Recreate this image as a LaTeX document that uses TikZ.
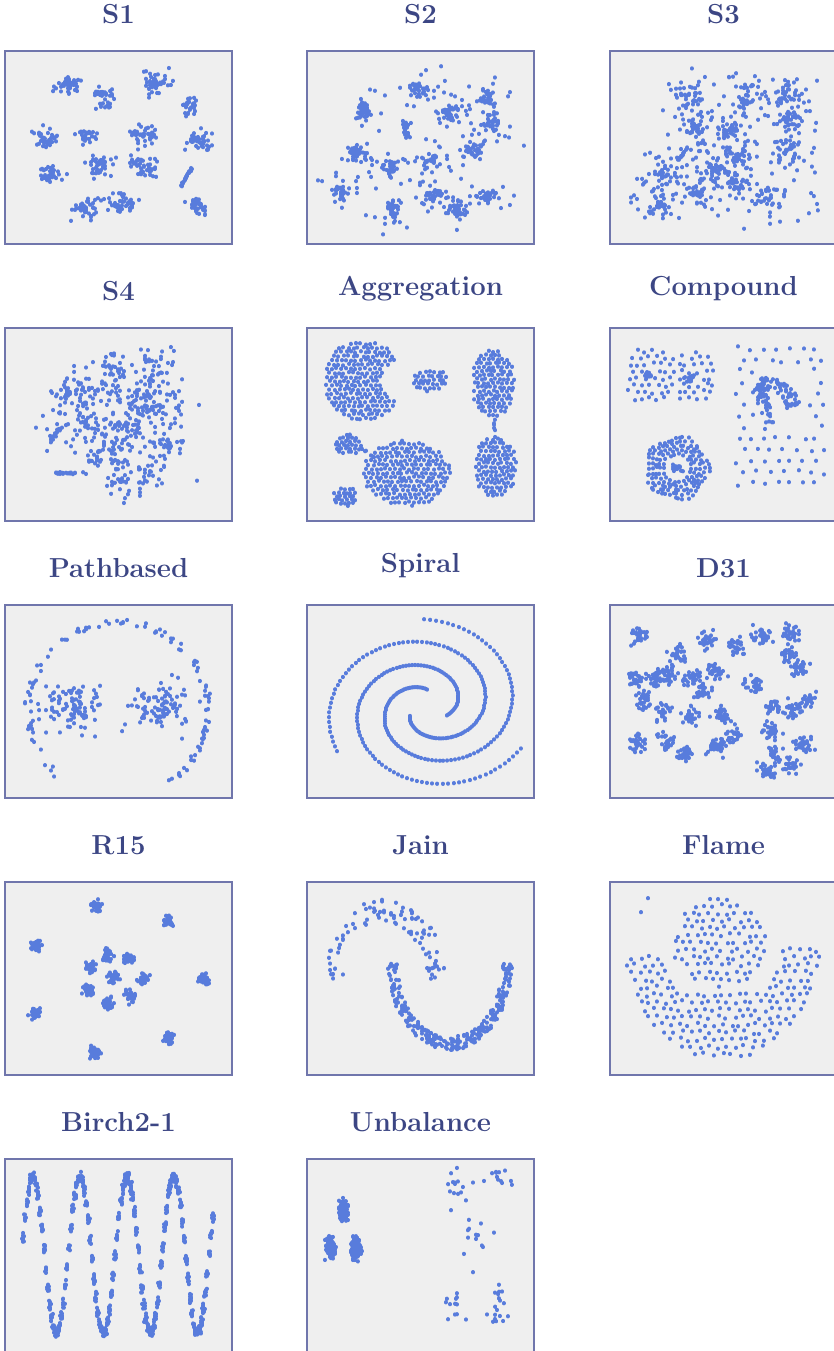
\documentclass[tikz,border=0pt]{standalone}
\usepackage{fontspec}
\definecolor{panelbg}{RGB}{239,239,239}
\definecolor{panelrule}{RGB}{112,118,172}
\definecolor{titleblue}{RGB}{60,70,132}
\definecolor{dotblue}{RGB}{88,124,220}
\tikzset{
  ptdots/.style={draw=dotblue,line width=4pt,line cap=round},
  panelframe/.style={fill=panelbg,draw=panelrule,line width=1.2pt},
  paneltitle/.style={font=\fontsize{27.5}{32}\selectfont\bfseries,text=titleblue,anchor=south,inner sep=0pt},
}
% sample points are collected in \ptlist and drawn as round dots in one path
\gdef\ptlist{}
\newcommand\addpt[2]{%
  \pgfmathsetmacro\qX{#1}\pgfmathsetmacro\qY{#2}%
  \xdef\ptlist{\ptlist(\qX,\qY)--++(0,0.3)}}
\newcommand\flushpts{%
  \edef\tmpdraw{\noexpand\draw[ptdots] \ptlist;}\tmpdraw\gdef\ptlist{}}
% gaussian-like cluster: cx cy sdx sdy n
\newcommand\gblob[5]{%
  \foreach \k in {1,...,#5}{\addpt{#1+#3*(rand+rand+rand)}{#2+#4*(rand+rand+rand)}}%
  \flushpts}
% points along a segment: x1 y1 x2 y2 noise n
\newcommand\lblob[6]{%
  \foreach \k in {1,...,#6}{%
    \pgfmathsetmacro\gT{rnd}%
    \addpt{#1+(#3-#1)*\gT+#5*rand}{#2+(#4-#2)*\gT+#5*rand}}%
  \flushpts}
% uniform points in a rectangle: x1 y1 x2 y2 n
\newcommand\rblob[5]{%
  \foreach \k in {1,...,#5}{\addpt{#1+(#3-#1)*rnd}{#2+(#4-#2)*rnd}}%
  \flushpts}
% elliptic band: cx cy rx ry a1 a2 smin n
\newcommand\arcband[8]{%
  \foreach \k in {1,...,#8}{%
    \pgfmathsetmacro\gA{#5+(#6-#5)*rnd}%
    \pgfmathsetmacro\gS{#7+(1-#7)*rnd}%
    \addpt{#1+#3*\gS*cos(\gA)}{#2+#4*\gS*sin(\gA)}}%
  \flushpts}
% jittered hex lattice kept where a condition on \ux,\uy holds:
% cx cy halfwidth halfheight step jitter condition
\newcommand\gridblob[7]{%
  \pgfmathtruncatemacro\gNx{#3/#5}%
  \pgfmathtruncatemacro\gNy{#4/(0.866*#5)}%
  \foreach \i in {-\gNx,...,\gNx}{%
    \foreach \j in {-\gNy,...,\gNy}{%
      \pgfmathsetmacro\ux{(\i+0.5*abs(mod(\j,2)))*#5+#6*rand}%
      \pgfmathsetmacro\uy{\j*0.866*#5+#6*rand}%
      \pgfmathparse{#7}%
      \ifdim\pgfmathresult pt>0.5pt\addpt{#1+\ux}{#2+\uy}\fi}}%
  \flushpts}

\begin{document}
\begin{tikzpicture}[x=1pt,y=-1pt]
\pgfmathsetseed{4242}
\useasboundingbox (0,0) rectangle (834,1351);

% frames
\foreach \fx/\fy in {5/51,307/51,610/51,5/328,307/328,610/328,5/605,307/605,610/605,
                     5/882,307/882,610/882,5/1159,307/1159}
  \draw[panelframe] (\fx,\fy) rectangle ++(227,193);

% titles
\node[paneltitle] (tS1)   at (118.5,24)   {S1};
\node[paneltitle] (tS2)   at (420.5,24)   {S2};
\node[paneltitle] (tS3)   at (723.5,24)   {S3};
\node[paneltitle] (tS4)   at (118.5,301)  {S4};
\node[paneltitle] (tAgg)  at (420.5,301)  {Aggregation};
\node[paneltitle] (tComp) at (723.5,301)  {Compound};
\node[paneltitle] (tPath) at (118.5,578)  {Pathbased};
\node[paneltitle] (tSpir) at (420.5,578)  {Spiral};
\node[paneltitle] (tD31)  at (723.5,578)  {D31};
\node[paneltitle] (tR15)  at (118.5,855)  {R15};
\node[paneltitle] (tJain) at (420.5,855)  {Jain};
\node[paneltitle] (tFlame) at (723.5,855) {Flame};
\node[paneltitle] (tBirch) at (118.5,1132) {Birch2-1};
\node[paneltitle] (tUnb)  at (420.5,1132) {Unbalance};

% ---------- S1
\begin{scope}[shift={(5,51)}]
\gblob{63}{34}{6}{4}{40}
\gblob{98}{46}{5}{6}{35}
\gblob{152}{32}{7}{6}{45}
\gblob{185}{56}{4}{6}{30}
\gblob{42}{86}{7}{5}{40}
\gblob{80}{84}{6}{4}{25}
\gblob{138}{84}{7}{6}{40}
\gblob{193}{89}{6}{5}{40}
\gblob{47}{122}{6}{5}{35}
\gblob{95}{114}{7}{5}{40}
\gblob{140}{114}{7}{6}{40}
\lblob{187}{116}{175}{137}{0.8}{25}
\gblob{80}{156}{7}{6}{40}
\gblob{118}{152}{7}{5}{40}
\gblob{192}{157}{5}{5}{35}
\end{scope}

% ---------- S2
\begin{scope}[shift={(307,51)}]
\foreach \cx/\cy in {113/38,143/60,180/46,183/73,58/58,48/101,83/116,123/110,
                     166/98,35/141,86/156,126/143,150/158,180/145}
  {\gblob{\cx}{\cy}{4.5}{4}{26}\gblob{\cx}{\cy}{12}{11}{16}}
\gblob{100}{78}{2}{5}{20}
\end{scope}

% ---------- S3
\begin{scope}[shift={(610,51)}]
\foreach \cx/\cy in {82/46,137/44,177/44,120/77,85/79,180/69,130/102,105/114,
                     177/101,55/124,87/141,125/134,157/147,48/151}
  {\gblob{\cx}{\cy}{5}{5}{18}\gblob{\cx}{\cy}{12}{11}{26}}
\lblob{68}{109}{78}{96}{1}{15}
\rblob{20}{25}{210}{180}{50}
\end{scope}

% ---------- S4
\begin{scope}[shift={(5,328)}]
\foreach \cx/\cy in {63/68,105/65,141/58,138/81,116/121,148/146,115/151,
                     85/95,120/95,90/125,160/80,75/60,110/40,150/40}
  {\gblob{\cx}{\cy}{9}{9}{26}}
\gblob{161}{116}{8}{3}{25}
\lblob{47}{145}{82}{145}{1}{22}
\lblob{46}{113}{56}{98}{1.5}{18}
\gblob{111}{98}{36}{30}{110}
\end{scope}

% ---------- Aggregation
\begin{scope}[shift={(307,328)}]
\gridblob{56}{53}{40}{40}{4.8}{0.9}{and((abs(\ux)/38)^2.5+(abs(\uy)/39)^2.5<1,((\ux-42)/10)^2+((\uy+1)/10)^2>5.3)}
\gridblob{123}{52}{19}{13}{4.6}{0.9}{(\ux/18)^2+(\uy/12)^2<1}
\gridblob{186}{55}{23}{35}{4.6}{0.9}{(\ux/22)^2+(\uy/34)^2<1}
\lblob{187}{89}{189}{111}{0.8}{7}
\gridblob{188}{139}{23}{31}{4.6}{0.9}{(\ux/22)^2+(\uy/30)^2<1}
\gridblob{41}{117}{15}{12}{4.2}{0.8}{(\ux/14)^2+(\uy/11)^2<1}
\lblob{55}{121}{66}{129}{1}{5}
\gridblob{100}{145}{45}{34}{4.8}{0.9}{(\ux/44)^2+(\uy/33)^2<1}
\gridblob{38}{168}{13}{11}{4}{0.8}{(\ux/12)^2+(\uy/10)^2<1}
\end{scope}

% ---------- Compound
\begin{scope}[shift={(610,328)}]
\gridblob{60}{50}{44}{38}{8}{2.2}{or(((\ux+23)/28)^2+((\uy+3)/28)^2<1,((\ux-22)/28)^2+(\uy/28)^2<1)}
\gblob{37}{47}{2}{2}{12}
\gblob{80}{52}{2}{2}{12}
\gridblob{167}{88}{46}{72}{13}{2.5}{or(or(\ux<-22,\ux>32),or(\uy<-50,\uy>20))}
\arcband{157}{82}{33}{33}{-105}{-5}{0.6}{60}
\lblob{149}{55}{160}{97}{6}{45}
\foreach \rr/\nn in {14/18,18/24,22/30,26/36,30/42}{%
  \foreach \k in {1,...,\nn}{%
    \pgfmathsetmacro\gA{\k/\nn*360+4*rand}%
    \pgfmathsetmacro\gR{\rr+0.12*(\rr-10)*cos(5*\gA)+0.6*rand}%
    \addpt{67+\gR*cos(\gA)}{140+\gR*sin(\gA)}}}
\flushpts
\gblob{67}{140}{2.5}{2}{15}
\end{scope}

% ---------- Pathbased
\begin{scope}[shift={(5,605)}]
\foreach \k in {1,...,110}{%
  \pgfmathsetmacro\gA{127+291*rnd}%
  \pgfmathsetmacro\gR{1+0.035*rand}%
  \addpt{113+90*\gR*cos(\gA)}{105+88*\gR*sin(\gA)}}
\flushpts
\gblob{67}{105}{15}{12}{95}
\gblob{155}{103}{15}{12}{95}
\end{scope}

% ---------- Spiral
\begin{scope}[shift={(307,605)}]
\foreach \al in {28,150,268}{%
  \foreach \k in {0,...,109}{%
    \pgfmathsetmacro\gP{\k/109*360}%
    \pgfmathsetmacro\gR{20+\gP/360*80}%
    \addpt{121+1.05*\gR*cos(\al-\gP)}{102+0.88*\gR*sin(\al-\gP)}}}
\flushpts
\end{scope}

% ---------- D31
\begin{scope}[shift={(610,605)}]
\foreach \cx/\cy in {30/30,96/35,126/41,151/31,180/28,68/50,106/66,178/50,191/63,
                     58/68,46/75,83/73,93/86,143/78,26/76,33/95,53/106,80/110,111/110,
                     121/130,198/95,163/101,185/105,161/126,28/138,56/136,76/148,106/141,
                     165/150,193/138,156/166,181/161}
  {\gblob{\cx}{\cy}{4.5}{4.5}{28}}
\end{scope}

% ---------- R15
\begin{scope}[shift={(5,882)}]
\foreach \cx/\cy in {91/24,163/39,30/63,199/97,30/131,163/156,90/170}
  {\gblob{\cx}{\cy}{2.8}{2.8}{35}}
\foreach \cx/\cy in {86/85,102/73,125/76,138/96,125/115,103/121,83/108,108/95}
  {\gblob{\cx}{\cy}{3}{3}{35}}
\end{scope}

% ---------- Jain
\begin{scope}[shift={(307,882)}]
\arcband{78}{97}{60}{80}{180}{360}{0.7}{95}
\arcband{143}{80}{62}{88}{0}{180}{0.85}{270}
\end{scope}

% ---------- Flame
\begin{scope}[shift={(610,882)}]
\gridblob{112}{53}{102}{127}{8.6}{2}{or(((\ux+2)/48)^2+((\uy-7)/45)^2<1,and((\ux/100)^2+(\uy/125)^2<1,and(\uy>15-0.06*(\ux),or((\ux/60)^2+(\uy/75)^2>1,\uy>55))))}
\addpt{38}{16}\addpt{31}{30}\flushpts
\end{scope}

% ---------- Birch2-1
\begin{scope}[shift={(5,1159)}]
\foreach \c in {0,...,99}{%
  \pgfmathsetmacro\bx{18+\c*1.92}%
  \pgfmathsetmacro\by{96-78*sin((\bx-16.25)/47*360)}%
  \foreach \k in {1,...,10}{\addpt{\bx+0.6*(rand+rand+rand)}{\by+2.4*(rand+rand+rand)}}}
\flushpts
\end{scope}

% ---------- Unbalance
\begin{scope}[shift={(307,1159)}]
\gblob{36}{51}{2.2}{5}{120}
\gblob{23}{88}{2.2}{5}{120}
\gblob{49}{88}{2.2}{5}{120}
\gblob{148}{26}{8}{8}{14}
\gblob{193}{19}{6}{5}{12}
\gblob{170}{79}{8}{8}{12}
\gblob{150}{149}{5}{10}{12}
\gblob{190}{149}{6}{10}{18}
\addpt{166}{113}\addpt{144}{51}\flushpts
\end{scope}
\end{tikzpicture}
\end{document}
